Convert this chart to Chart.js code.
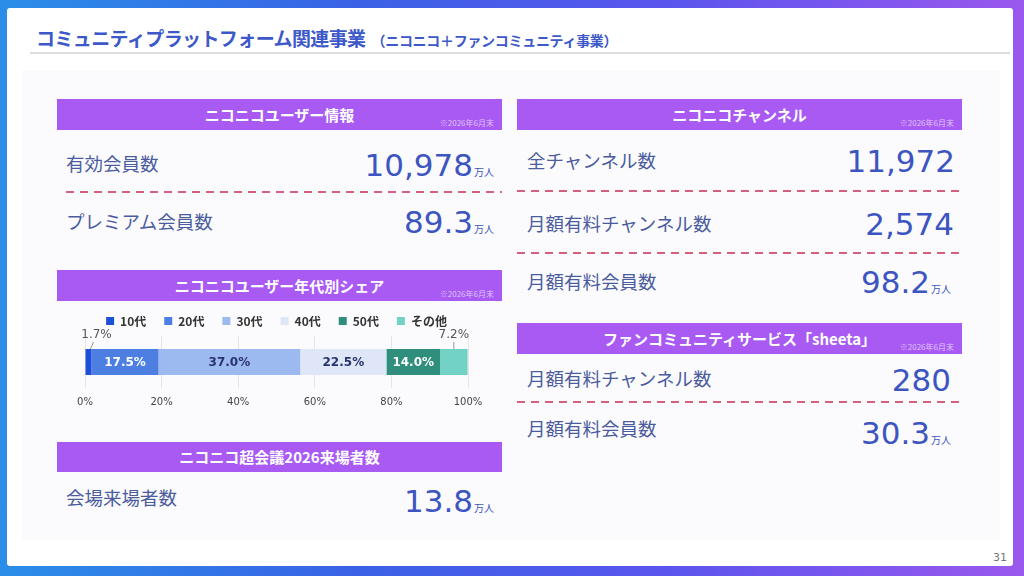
<!DOCTYPE html>
<html lang="ja">
<head>
<meta charset="utf-8">
<title>コミュニティプラットフォーム関連事業</title>
<script src="https://cdn.jsdelivr.net/npm/chart.js@4.4.1/dist/chart.umd.min.js"></script>
<style>
  html, body { margin: 0; padding: 0; }
  body {
    width: 1024px; height: 576px; overflow: hidden; position: relative;
    background: linear-gradient(90deg, #2a8ee8 0%, #3a62e6 35%, #5a55ee 65%, #9a58ee 100%);
    font-family: "Noto Sans CJK JP", "Noto Sans", sans-serif;
  }
  .card {
    position: absolute; left: 7px; top: 8px; width: 1006px; height: 558px;
    background: #ffffff; border-radius: 3px;
  }
  .panel {
    position: absolute; left: 22px; top: 70px; width: 978px; height: 470px;
    background: #fbfbfd;
  }
  .title {
    position: absolute; left: 36px; top: 24px; color: #3d58c8;
    font-weight: 700; font-size: 19px; letter-spacing: -0.6px; white-space: nowrap;
  }
  .title small { font-size: 14px; letter-spacing: -0.3px; margin-left: 6px; }
  .rule { position: absolute; left: 30px; top: 52px; width: 980px; height: 2px; background: #dedede; }
  .head {
    position: absolute; height: 31px; background: #a85af3; color: #fff;
    font-weight: 700; font-size: 15px; line-height: 31px; text-align: center;
  }
  .head .note {
    position: absolute; right: 8px; bottom: 2px; font-size: 8px; line-height: 10px;
    font-weight: 400; color: rgba(255,255,255,0.65);
  }
  .label {
    position: absolute; font-size: 18.5px; line-height: 18px; color: #4b5c9e; white-space: nowrap;
  }
  .value {
    position: absolute; text-align: right; white-space: nowrap; line-height: 30px;
    font-family: "DejaVu Sans", sans-serif; font-size: 31px; color: #3d55c0;
  }
  .value span { font-family: "Noto Sans CJK JP", sans-serif; font-size: 10px; margin-left: 1px; }
  .dash {
    position: absolute; height: 2px;
    background: repeating-linear-gradient(90deg, #d3607c 0 8px, transparent 8px 14px);
  }
  .pageno { position: absolute; left: 993px; top: 551px; font-size: 11px; color: #777; font-family: "DejaVu Sans", sans-serif; }
  #chartBox { position: absolute; left: 57px; top: 305px; width: 445px; height: 113px; }
</style>
</head>
<body>
<div class="card"></div>
<div class="panel"></div>
<div class="title">コミュニティプラットフォーム関連事業<small>（ニコニコ＋ファンコミュニティ事業）</small></div>
<div class="rule"></div>

<!-- left column -->
<div class="head" style="left:57px;top:99px;width:445px;">ニコニコユーザー情報<div class="note">※2026年6月末</div></div>
<div class="label" style="left:66px;top:154px;">有効会員数</div>
<div class="value" style="left:300px;top:150px;width:194px;">10,978<span>万人</span></div>
<div class="dash" style="left:66px;top:191px;width:436px;"></div>
<div class="label" style="left:66px;top:212px;">プレミアム会員数</div>
<div class="value" style="left:300px;top:207px;width:194px;">89.3<span>万人</span></div>

<div class="head" style="left:57px;top:270px;width:445px;">ニコニコユーザー年代別シェア<div class="note">※2026年6月末</div></div>
<div id="chartBox"><canvas id="ageChart"></canvas></div>

<div class="head" style="left:57px;top:442px;width:445px;height:30px;line-height:30px;">ニコニコ超会議2026来場者数</div>
<div class="label" style="left:66px;top:488px;">会場来場者数</div>
<div class="value" style="left:300px;top:486px;width:194px;">13.8<span>万人</span></div>

<!-- right column -->
<div class="head" style="left:517px;top:99px;width:445px;">ニコニコチャンネル<div class="note">※2026年6月末</div></div>
<div class="label" style="left:527px;top:151px;">全チャンネル数</div>
<div class="value" style="left:750px;top:146px;width:205px;">11,972</div>
<div class="dash" style="left:517px;top:190px;width:445px;"></div>
<div class="label" style="left:527px;top:214px;">月額有料チャンネル数</div>
<div class="value" style="left:750px;top:209px;width:204px;">2,574</div>
<div class="dash" style="left:517px;top:252px;width:445px;"></div>
<div class="label" style="left:527px;top:272px;">月額有料会員数</div>
<div class="value" style="left:750px;top:267px;width:201px;">98.2<span>万人</span></div>

<div class="head" style="left:517px;top:323px;width:445px;">ファンコミュニティサービス「sheeta」<div class="note">※2026年6月末</div></div>
<div class="label" style="left:527px;top:369px;">月額有料チャンネル数</div>
<div class="value" style="left:750px;top:365px;width:201px;">280</div>
<div class="dash" style="left:517px;top:401px;width:445px;"></div>
<div class="label" style="left:527px;top:419px;">月額有料会員数</div>
<div class="value" style="left:750px;top:418px;width:201px;">30.3<span>万人</span></div>

<div class="pageno">31</div>

<script>
// 年代別シェア (%)
const ageGroups = ["10代", "20代", "30代", "40代", "50代", "その他"];
const shareValues = [1.7, 17.5, 37.0, 22.5, 14.0, 7.2];
const xTicks = [0, 20, 40, 60, 80, 100];

const barColors = ["#1d4fd8", "#4d7fe3", "#9cb9f0", "#dfe6f8", "#2f8f7c", "#72d2c5"];
const textColors = ["#555", "#ffffff", "#27346a", "#27346a", "#ffffff", "#555"];
// segments too thin for an inside label get a callout above the bar
const outside = [true, false, false, false, false, true];
const outsideShift = [8, 0, 0, 0, 0, 0];

const shareLabels = {
  id: "shareLabels",
  afterDatasetsDraw(chart) {
    const ctx = chart.ctx;
    ctx.save();
    ctx.textAlign = "center";
    chart.data.datasets.forEach((ds, i) => {
      const bar = chart.getDatasetMeta(i).data[0];
      if (!bar) return;
      const cx = (bar.x + bar.base) / 2;
      const text = shareValues[i].toFixed(1) + "%";
      if (outside[i]) {
        const top = bar.y - bar.height / 2;
        const lx = cx + outsideShift[i];
        ctx.strokeStyle = "#999";
        ctx.lineWidth = 1;
        ctx.beginPath();
        ctx.moveTo(cx + (outsideShift[i] ? 2 : 0), top);
        ctx.lineTo(lx - (outsideShift[i] ? 3 : 0), top - 7);
        ctx.stroke();
        ctx.font = "12px 'DejaVu Sans'";
        ctx.fillStyle = textColors[i];
        ctx.textBaseline = "bottom";
        ctx.fillText(text, lx, top - 8);
      } else {
        ctx.font = "bold 12px 'DejaVu Sans'";
        ctx.fillStyle = textColors[i];
        ctx.textBaseline = "middle";
        ctx.fillText(text, cx, bar.y + 1);
      }
    });
    ctx.restore();
  }
};

// wide gaps between legend items, a bit less room under the legend
const tightLegend = {
  id: "tightLegend",
  beforeInit(chart) {
    const fit = chart.legend.fit;
    chart.legend.fit = function () {
      fit.call(this);
      this.height -= 1;
    };
  }
};

new Chart(document.getElementById("ageChart"), {
  type: "bar",
  data: {
    labels: ["share"],
    datasets: ageGroups.map((g, i) => ({
      label: g,
      data: [shareValues[i]],
      backgroundColor: barColors[i],
      borderWidth: 0,
      categoryPercentage: 1,
      barPercentage: 0.5,
    })),
  },
  options: {
    indexAxis: "y",
    responsive: true,
    maintainAspectRatio: false,
    animation: false,
    layout: { padding: { left: 28, right: 34, top: -8, bottom: 2 } },
    plugins: {
      legend: {
        position: "top",
        labels: {
          boxWidth: 8,
          boxHeight: 8,
          padding: 18,
          color: "#333",
          font: { family: "'Noto Sans CJK JP'", size: 12, weight: "bold" },
        },
      },
      tooltip: { enabled: false },
    },
    scales: {
      x: {
        stacked: true,
        min: 0,
        max: 100,
        afterBuildTicks: axis => { axis.ticks = xTicks.map(v => ({ value: v })); },
        ticks: {
          callback: v => v + "%",
          color: "#444",
          padding: 8,
          font: { family: "'DejaVu Sans'", size: 10 },
        },
        grid: { color: "#e6e6e6", drawTicks: false },
        border: { display: false },
      },
      y: { stacked: true, display: false },
    },
  },
  plugins: [shareLabels, tightLegend],
});
</script>
</body>
</html>
